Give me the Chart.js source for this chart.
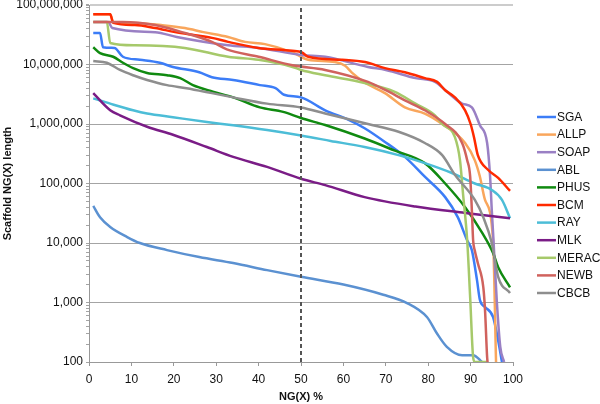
<!DOCTYPE html>
<html>
<head>
<meta charset="utf-8">
<script src="https://cdn.jsdelivr.net/npm/chart.js@4.4.1/dist/chart.umd.min.js"></script>
<style>
  html, body { margin: 0; padding: 0; background: #fff; }
  #wrap { width: 600px; height: 404px; position: relative; }
</style>
</head>
<body>
<div id="wrap"><canvas id="myChart"></canvas></div>
<script>
// NG(X) curves, x = NG(X) %, y = scaffold length
var seriesNames = ['SGA', 'ALLP', 'SOAP', 'ABL', 'PHUS', 'BCM', 'RAY', 'MLK', 'MERAC', 'NEWB', 'CBCB'];
var seriesColors = ['#3c7df7', '#f9a65c', '#9a80c4', '#5b91d1', '#108a10', '#ff2a00', '#4cbdd7', '#7a1c86', '#a6c96a', '#d0625d', '#8e8e8e'];

var sgaX = [1, 2.6, 3.3, 6, 8, 12, 16.7, 19.8, 26, 29, 34, 40.3, 44, 46, 50, 55.7, 61, 65, 69.8, 74.5, 79.2, 84, 87, 89.2, 90.3, 91.5, 92.2, 93.4, 95.3, 96.5, 97.4];
var sgaY = [34e6, 34e6, 19.5e6, 19e6, 13.5e6, 12e6, 10.7e6, 9.1e6, 7.4e6, 6.1e6, 5.5e6, 4.5e6, 4.0e6, 3.1e6, 2.8e6, 1.7e6, 1.2e6, 850e3, 500e3, 280e3, 130e3, 59e3, 27e3, 11e3, 7.6e3, 2.4e3, 1.1e3, 840, 570, 230, 100];

var allpX = [1, 5, 5.7, 10.8, 17, 22.6, 27, 32.8, 36.8, 41.5, 48, 51.7, 58, 60.4, 62, 65, 69.8, 74.5, 79.2, 83.3, 88.7, 91, 92.2, 93.4, 95.3, 96];
var allpY = [70e6, 70e6, 52e6, 50e6, 46e6, 41e6, 35e6, 29e6, 24e6, 22e6, 16e6, 12e6, 11e6, 9.5e6, 7.3e6, 5.0e6, 3.3e6, 1.9e6, 1.5e6, 1e6, 480e3, 245e3, 130e3, 53e3, 11e3, 100];

var soapX = [1, 4.5, 5.5, 15.6, 20.7, 32.8, 40, 50, 55.7, 65.8, 70, 77, 81.6, 84.4, 88, 90.3, 92.2, 93.9, 94.6, 95, 95.3, 96.2, 97, 97.9];
var soapY = [52e6, 52e6, 41e6, 35e6, 29e6, 21e6, 19e6, 14.5e6, 13.5e6, 9.1e6, 8.1e6, 5.9e6, 5.1e6, 3.5e6, 2.2e6, 1.9e6, 950e3, 480e3, 130e3, 35e3, 15e3, 1e3, 180, 100];

var ablX = [1, 2.6, 5, 9, 12, 18.4, 26, 34, 42, 50, 60, 69.4, 75, 79.7, 82, 84.4, 88, 90.6, 92.7];
var ablY = [42e3, 27e3, 18.6e3, 12.6e3, 10e3, 7.6e3, 5.8e3, 4.6e3, 3.5e3, 2.7e3, 2e3, 1.35e3, 980, 570, 307, 180, 130, 130, 100];

var phusX = [1, 2.6, 5.7, 8, 10.4, 13.7, 18.4, 21.5, 24.5, 29.2, 34, 40.3, 45.8, 50, 55.7, 65, 72, 79.2, 84, 88.7, 92.7, 95.3, 96.5, 99.3];
var phusY = [19.5e6, 15.5e6, 13.5e6, 10.7e6, 8.7e6, 7.2e6, 6.6e6, 5.9e6, 4.5e6, 3.5e6, 2.8e6, 1.9e6, 1.6e6, 1.26e6, 960e3, 570e3, 360e3, 220e3, 100e3, 40e3, 15e3, 6.8e3, 3.9e3, 1.8e3];

var bcmX = [1, 5, 5.7, 10.8, 15.6, 20.3, 25, 29, 32.8, 39.9, 47.9, 50.2, 51.7, 59.7, 65.1, 69.8, 74.5, 79.2, 82.1, 84, 86.3, 88.7, 90, 90.8, 91.7, 94.1, 96.5, 99.3];
var bcmY = [70e6, 70e6, 50e6, 46e6, 41e6, 35e6, 31e6, 28e6, 24e6, 19e6, 17e6, 16e6, 13.5e6, 12e6, 11e6, 8.7e6, 7.4e6, 5.9e6, 5.1e6, 3.7e6, 2.8e6, 1.7e6, 1e6, 600e3, 300e3, 170e3, 124e3, 75e3];

var rayX = [1, 5, 10.4, 13.7, 19.8, 27.8, 34, 42, 50, 57, 65, 73, 79.2, 85.6, 91, 95, 97.4, 99.3];
var rayY = [2.7e6, 2.2e6, 1.7e6, 1.5e6, 1.3e6, 1.08e6, 950e3, 790e3, 640e3, 520e3, 410e3, 300e3, 220e3, 150e3, 100e3, 78e3, 53e3, 26e3];

var mlkX = [1, 5, 7.3, 13.7, 19.8, 27.8, 34, 42, 50, 55.7, 65, 77, 88.7, 99.3];
var mlkY = [3.3e6, 1.7e6, 1.4e6, 900e3, 660e3, 410e3, 280e3, 190e3, 120e3, 94e3, 59e3, 41e3, 32e3, 26e3];

var meracX = [1, 4.2, 5, 10.8, 22.6, 32.8, 40, 48, 50, 55.7, 65, 72, 77, 81.6, 83.3, 86.3, 87.5, 88.2, 89.2, 89.9, 90.6, 91, 94];
var meracY = [52e6, 52e6, 23e6, 21e6, 19e6, 13.5e6, 12e6, 9.1e6, 8.1e6, 6.6e6, 4.9e6, 3.5e6, 2.2e6, 1.4e6, 1e6, 600e3, 245e3, 69e3, 11e3, 1.2e3, 120, 100, 100];

var newbX = [1, 8, 15.6, 21.9, 29, 32.5, 40, 48, 55.7, 65.8, 70, 74.5, 79.2, 84, 88, 89.2, 89.9, 90.3, 90.6, 91, 91.7, 93, 93.4, 93.9, 94];
var newbY = [52e6, 52e6, 46e6, 35e6, 24e6, 18e6, 13.5e6, 9.7e6, 8.1e6, 5.1e6, 3.7e6, 2.5e6, 1.7e6, 1e6, 480e3, 245e3, 130e3, 35e3, 11e3, 7.4e3, 4.6e3, 1.8e3, 750, 120, 100];

var cbcbX = [1, 4.2, 7.3, 10.4, 13.7, 18.4, 23, 29, 34, 42, 50, 55.7, 65.8, 73, 79.2, 83.3, 86.3, 91, 93, 95, 96.5, 99.3];
var cbcbY = [11.4e6, 10.7e6, 8.1e6, 6.6e6, 5.5e6, 4.5e6, 4.0e6, 3.3e6, 2.8e6, 2.2e6, 1.9e6, 1.5e6, 1e6, 740e3, 480e3, 300e3, 140e3, 53e3, 27e3, 10e3, 2.7e3, 1.45e3];

var seriesX = [sgaX, allpX, soapX, ablX, phusX, bcmX, rayX, mlkX, meracX, newbX, cbcbX];
var seriesY = [sgaY, allpY, soapY, ablY, phusY, bcmY, rayY, mlkY, meracY, newbY, cbcbY];

var xMin = 0, xMax = 100, xStep = 10;
var yMin = 100, yMax = 1e8;
var markerX = 50;

function pairs(xs, ys) {
  return xs.map(function (x, i) { return { x: x, y: ys[i] }; });
}

var datasets = seriesNames.map(function (name, i) {
  return {
    label: name,
    data: pairs(seriesX[i], seriesY[i]),
    borderColor: seriesColors[i],
    backgroundColor: seriesColors[i],
    borderWidth: 2.5,
    pointRadius: 0,
    cubicInterpolationMode: 'monotone',
    order: seriesNames.length - i
  };
});
datasets.push({
  label: 'NG50',
  data: [{ x: markerX, y: yMin }, { x: markerX, y: yMax }],
  borderColor: '#555',
  borderWidth: 2,
  borderDash: [4, 3],
  pointRadius: 0,
  order: -1
});

// legend drawn by hand so it sits where the original has it
var sideLegend = {
  id: 'sideLegend',
  afterDraw: function (chart) {
    var ctx = chart.ctx;
    ctx.save();
    ctx.font = '12px "Liberation Sans", Arial, sans-serif';
    ctx.textBaseline = 'middle';
    ctx.fillStyle = '#111';
    seriesNames.forEach(function (name, i) {
      var y = 117 + i * 17.6;
      ctx.strokeStyle = seriesColors[i];
      ctx.lineWidth = 2.5;
      ctx.beginPath();
      ctx.moveTo(537, y);
      ctx.lineTo(556, y);
      ctx.stroke();
      ctx.fillText(name, 557, y + 0.5);
    });
    ctx.restore();
  }
};

Chart.defaults.font.family = '"Liberation Sans", Arial, sans-serif';
Chart.defaults.font.size = 12;
Chart.defaults.color = '#111';

new Chart('myChart', {
  type: 'line',
  data: { datasets: datasets },
  options: {
    responsive: true,
    maintainAspectRatio: false,
    animation: false,
    layout: { padding: { left: 0, right: 87, top: 5, bottom: 0 } },
    plugins: {
      legend: { display: false },
      tooltip: { enabled: false }
    },
    scales: {
      x: {
        type: 'linear',
        min: xMin,
        max: xMax,
        border: { color: '#999' },
        grid: { drawOnChartArea: false, drawTicks: true, tickLength: 4, color: '#999' },
        ticks: { stepSize: xStep, padding: 6, maxRotation: 0 },
        title: { display: true, text: 'NG(X) %', font: { size: 11, weight: 'bold' }, padding: { top: 0, bottom: 0 } },
        afterFit: function (s) { s.height = 42; s.paddingLeft = 0; s.paddingRight = 0; }
      },
      y: {
        type: 'logarithmic',
        min: yMin,
        max: yMax,
        border: { color: '#999' },
        afterBuildTicks: function (s) {
          var t = [];
          for (var e = 2; e < 8; e++) {
            for (var m = 1; m < 10; m++) t.push({ value: m * Math.pow(10, e), major: m === 1 });
          }
          t.push({ value: 1e8, major: true });
          s.ticks = t;
        },
        grid: {
          tickLength: 3,
          color: function (c) {
            if (!c.tick || !c.tick.major) return 'rgba(0,0,0,0)';
            return c.tick.value === yMax ? '#cccccc' : '#a4a4a4';
          },
          lineWidth: function (c) { return c.tick && c.tick.value === yMax ? 2 : 1; },
          tickColor: '#a4a4a4'
        },
        ticks: {
          autoSkip: false,
          padding: 3,
          callback: function (v) {
            var l = Math.log10(v);
            return Math.abs(l - Math.round(l)) < 1e-9 ? Number(v).toLocaleString('en-US') : '';
          }
        },
        title: { display: true, text: 'Scaffold NG(X) length', font: { size: 11, weight: 'bold' }, padding: { top: 1, bottom: 0 } },
        afterFit: function (s) { s.width = 89; s.paddingTop = 0; s.paddingBottom = 0; }
      }
    }
  },
  plugins: [sideLegend]
});
</script>
</body>
</html>
